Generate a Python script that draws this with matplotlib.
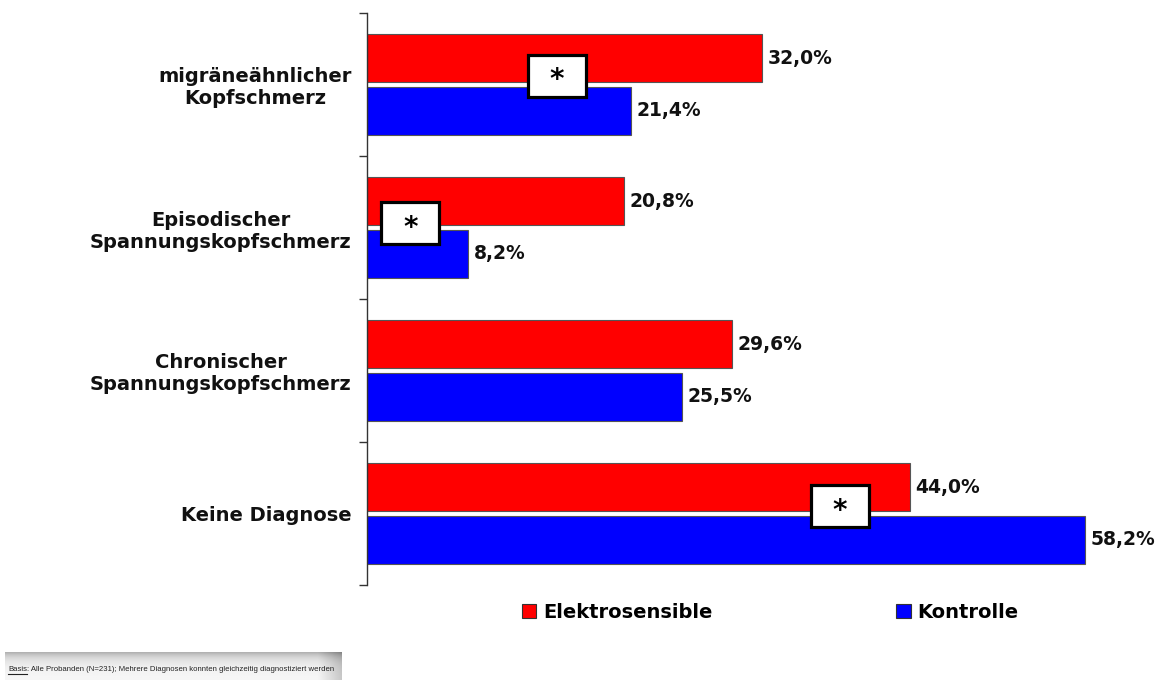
import matplotlib
matplotlib.use("Agg")
import matplotlib.pyplot as plt
import numpy as np
from matplotlib.patches import Rectangle, Patch
from matplotlib.lines import Line2D

categories = ["migräneähnlicher\nKopfschmerz",
              "Episodischer\nSpannungskopfschmerz",
              "Chronischer\nSpannungskopfschmerz",
              "Keine Diagnose"]
elektro = [32.0, 20.8, 29.6, 44.0]
kontrolle = [21.4, 8.2, 25.5, 58.2]
series_names = ["Elektrosensible", "Kontrolle"]
# significance markers: (x in %, category position)
star_x = [15.4, 3.5, 38.3]
star_y = [-0.06, 0.97, 2.95]
note = ": Alle Probanden (N=231); Mehrere Diagnosen konnten gleichzeitig diagnostiziert werden"

red = "#ff0000"
blue = "#0000ff"

plt.rcParams['font.family'] = ['DejaVu Sans']

fig = plt.figure(figsize=(11.67, 6.8), dpi=100)
ax = fig.add_axes([367/1167, 1 - 585/680, (1100 - 367)/1167, (585 - 13)/680])

y = np.arange(len(categories))
h = 0.336
off = 0.183
ax.barh(y - off, elektro, height=h, color=red, edgecolor="#555555", linewidth=0.8)
ax.barh(y + off, kontrolle, height=h, color=blue, edgecolor="#555555", linewidth=0.8)

for i in range(len(categories)):
    ax.text(elektro[i] + 0.45, y[i] - off, f"{elektro[i]:.1f}%".replace(".", ","),
            va="center", ha="left", fontsize=13.5, fontweight="bold", color="#111111")
    ax.text(kontrolle[i] + 0.45, y[i] + off, f"{kontrolle[i]:.1f}%".replace(".", ","),
            va="center", ha="left", fontsize=13.5, fontweight="bold", color="#111111")

bw, bh = 4.7, 0.294
for sx, sy in zip(star_x, star_y):
    ax.add_patch(Rectangle((sx - bw/2, sy - bh/2), bw, bh, facecolor="white",
                           edgecolor="black", linewidth=2.3, zorder=5))
    ax.text(sx, sy + 0.03, "*", ha="center", va="center", fontsize=20,
            fontweight="bold", zorder=6)

ax.set_xlim(0, (1100 - 367) / 12.34)
ax.set_ylim(len(categories) - 0.5, -0.5)
ax.set_yticks(y)
ax.set_yticklabels(categories, fontsize=14, fontweight="bold", color="#111111")
for lab in ax.get_yticklabels():
    lab.set_multialignment("center")
ax.set_yticks(np.arange(-0.5, len(categories)), minor=True)
ax.tick_params(axis="y", which="major", length=0, pad=11)
ax.tick_params(axis="y", which="minor", length=6, width=1, direction="out", color="#333333")
ax.set_xticks([])
for s in ["top", "right", "bottom"]:
    ax.spines[s].set_visible(False)
ax.spines["left"].set_color("#333333")
ax.spines["left"].set_linewidth(1.0)

handles = [Patch(facecolor=red, edgecolor="#333333", linewidth=0.8),
           Patch(facecolor=blue, edgecolor="#333333", linewidth=0.8)]
fig.legend(handles, series_names, ncol=2, loc="center left",
           bbox_to_anchor=(504/1167, 1 - 612/680), frameon=False,
           prop={"weight": "bold", "size": 14},
           handlelength=0.75, handleheight=0.75, handletextpad=0.35,
           columnspacing=9.45)

# footnote bar with gray gradient
fax = fig.add_axes([5/1167, 0, (342 - 5)/1167, 28/680])
vy = np.linspace(0, 1, 40)[:, None]
hx = np.linspace(0, 1, 300)[None, :]
shade = 0.97 - 0.28 * np.exp(-vy / 0.25) - 0.18 * np.clip((hx - 0.93) / 0.07, 0, 1)
fax.imshow(shade, cmap="gray", vmin=0, vmax=1, aspect="auto",
           extent=[0, 1, 0, 1], origin="upper")
fax.set_axis_off()

# fit the footnote into the bar width
note_font = ['Liberation Sans', 'DejaVu Sans']
probe = fig.text(0, 0, "Basis" + note, family=note_font, fontsize=9)
fig.canvas.draw()
fs = 9 * 325 / probe.get_window_extent().width
probe.remove()

t1 = fig.text(8/1167, 9/680, "Basis", family=note_font, fontsize=fs, color="#222222",
              ha="left", va="baseline")
fig.canvas.draw()
bb = t1.get_window_extent()
fig.text(bb.x1 / 1167, 9/680, note, family=note_font, fontsize=fs, color="#222222",
         ha="left", va="baseline")
fig.add_artist(Line2D([bb.x0/1167, bb.x1/1167], [6.5/680, 6.5/680], color="#222222",
                      linewidth=0.8))

fig.savefig("out.png", dpi=100)
